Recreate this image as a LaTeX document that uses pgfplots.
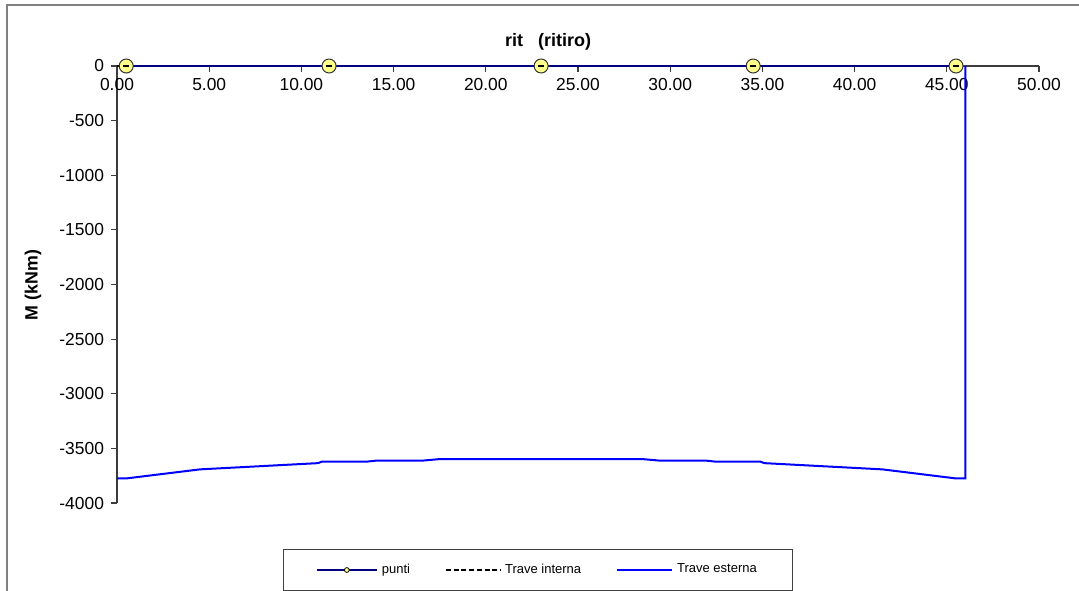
\documentclass[border=0pt]{standalone}
\usepackage{fontspec}
\setmainfont{Liberation Sans}
\usepackage{pgfplots}
\pgfplotsset{compat=1.18}
\definecolor{esterna}{RGB}{0,0,255}
\definecolor{navyp}{RGB}{0,0,128}
\definecolor{mkfill}{RGB}{255,255,140}
\definecolor{framegray}{RGB}{128,128,128}
\definecolor{axgray}{RGB}{60,60,60}

\begin{document}
\begin{tikzpicture}
\useasboundingbox (0pt,0pt) rectangle (539.5pt,-295pt);
\draw[framegray, line width=0.7pt] (3.5pt,-296pt) -- (3.5pt,-2.5pt) -- (540pt,-2.5pt);
% y axis only
\begin{axis}[at={(58.5pt,-33pt)}, anchor=north west, scale only axis,
  width=461pt, height=218.5pt,
  xmin=0, xmax=50, ymin=-4000, ymax=0,
  axis x line=none, axis y line*=left,
  ytick={-4000,-3500,-3000,-2500,-2000,-1500,-1000,-500,0},
  tick align=outside, major tick length=3pt,
  y axis line style={axgray, line width=0.6pt},
  ytick style={axgray, line width=0.6pt},
  yticklabel style={font=\fontsize{8.7}{10}\selectfont,
    /pgf/number format/.cd, assume math mode=true, set thousands separator={}},
]
\end{axis}
% x axis + data
\begin{axis}[at={(58.5pt,-33pt)}, anchor=north west, scale only axis,
  width=461pt, height=218.5pt,
  xmin=0, xmax=50, ymin=-4000, ymax=0, clip=false,
  axis y line=none, axis x line*=top,
  xtick={0,5,10,15,20,25,30,35,40,45,50},
  tick align=inside, major tick length=3pt,
  x axis line style={axgray, line width=0.6pt},
  xtick style={axgray, line width=0.6pt},
  xticklabel style={anchor=north, yshift=-2.5pt, font=\fontsize{8.7}{10}\selectfont,
    /pgf/number format/.cd, fixed, fixed zerofill, precision=2, assume math mode=true},
  legend columns=3,
  legend style={at={(0.457,-0.1533)}, anchor=center, draw=black!75, line width=0.6pt,
    font=\fontsize{6.5}{8}\selectfont, inner xsep=16pt, inner ysep=5pt,
    /tikz/every even column/.append style={column sep=15.5pt}},
]
\addlegendimage{legend image code/.code={\draw[navyp, line width=1pt] (0pt,0pt) -- (30pt,0pt); \filldraw[fill=mkfill, draw=black, line width=0.4pt] (15pt,0pt) circle (1.2pt);}}
\addlegendentry{punti}
\addlegendimage{legend image code/.code={\draw[black, line width=1pt, dash pattern=on 2.5pt off 1.35pt] (0pt,0pt) -- (27pt,0pt);}}
\addlegendentry{Trave interna}
\addlegendimage{legend image code/.code={\draw[esterna, line width=1pt] (0pt,0pt) -- (27.5pt,0pt);}}
\addlegendentry{Trave esterna}

\addplot[black, dashed, line width=0.6pt, forget plot] coordinates {(0,0) (46,0)};
\addplot[esterna, line width=1pt, forget plot] coordinates {
(0,-3775) (0.5,-3775) (4.5,-3692) (10.9,-3635) (11.1,-3622) (13.5,-3622)
(14.0,-3613) (16.5,-3613) (17.5,-3598) (28.5,-3598) (29.5,-3613) (32.0,-3613)
(32.5,-3622) (34.9,-3622) (35.1,-3635) (41.5,-3692) (45.5,-3775) (46,-3775) (46,0)};
\addplot[navyp, line width=0.6pt, mark=*, mark size=3.5pt,
  mark options={fill=mkfill, draw=black!80, line width=0.5pt}, forget plot]
  coordinates {(0.5,0) (11.5,0) (23,0) (34.5,0) (45.5,0)};
\addplot[only marks, mark=-, mark size=1.5pt, mark options={black, line width=0.6pt}, forget plot]
  coordinates {(0.5,0) (11.5,0) (23,0) (34.5,0) (45.5,0)};
\end{axis}
\node[font=\bfseries\fontsize{9}{11}\selectfont] at (274pt,-21pt) {rit\ \ \ (ritiro)};
\node[rotate=90, font=\bfseries\fontsize{8.9}{10}\selectfont] at (16.5pt,-142.5pt) {M (kNm)};
\end{tikzpicture}
\end{document}
